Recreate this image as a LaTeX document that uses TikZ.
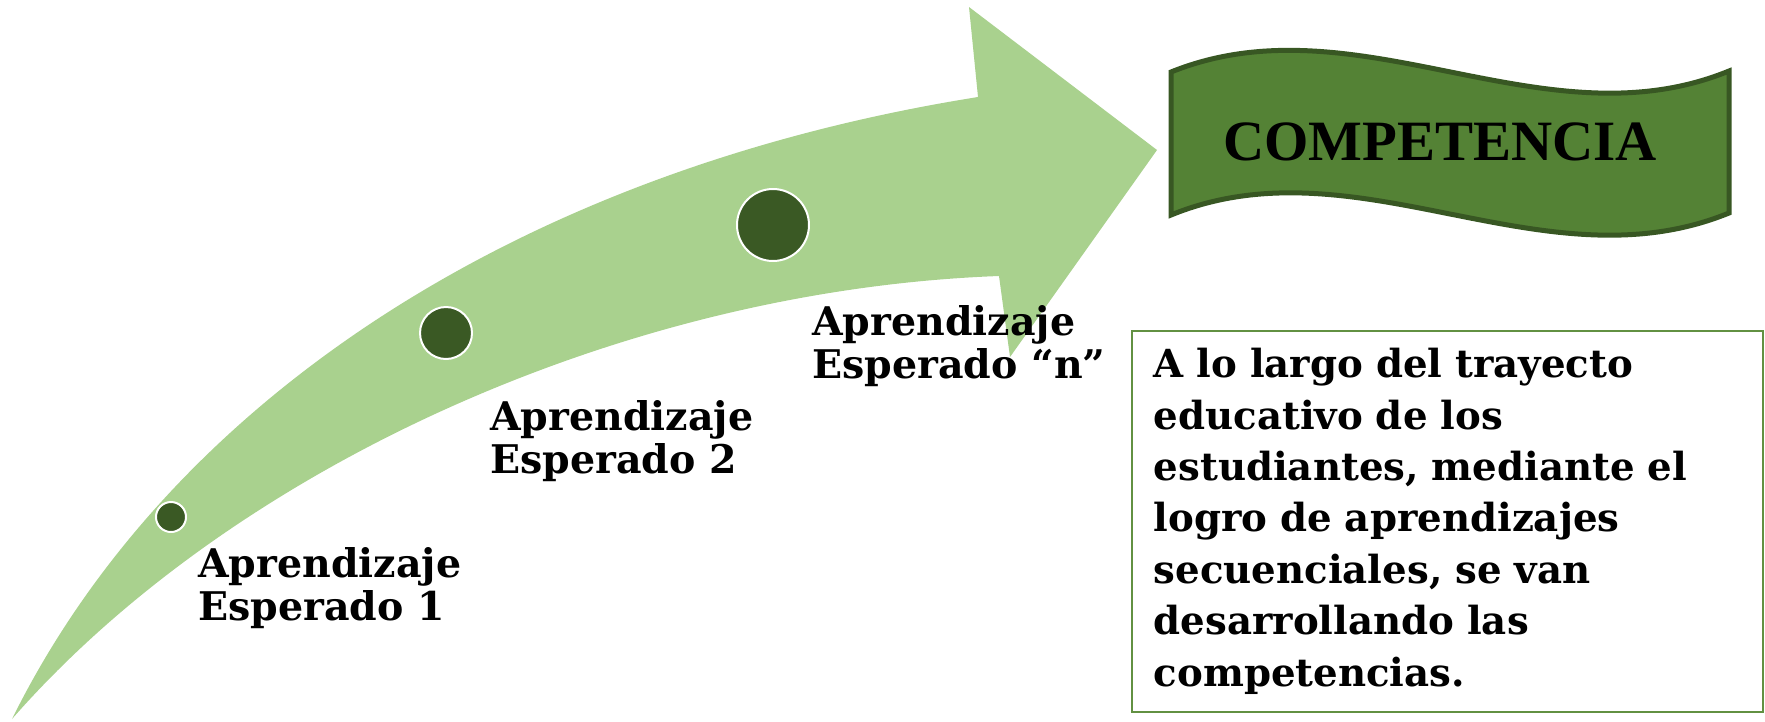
\documentclass[tikz,border=0pt]{standalone}
\usepackage{fontspec}
\setmainfont{DejaVu Serif}
\newfontfamily\bannerfont{Liberation Serif}
\usetikzlibrary{positioning}
\definecolor{arrowgreen}{RGB}{169,209,142}
\definecolor{dotgreen}{RGB}{58,89,36}
\definecolor{bannergreen}{RGB}{84,130,53}
\definecolor{bannerline}{RGB}{56,87,35}
\definecolor{boxgreen}{RGB}{98,145,66}
\tikzstyle{dot}=[
  circle,
  fill=dotgreen,
  draw=white,
  line width=2pt,
  inner sep=0pt,
]
\tikzstyle{stage}=[
  anchor=north west,
  inner sep=0pt,
  align=left,
  font={\bfseries\fontsize{39.5}{43}\selectfont},
]
\tikzset{
  x=1pt,
  y=-1pt,
}

\begin{document}
\begin{tikzpicture}
      \useasboundingbox (0,0) rectangle (1765,721);
      % big curved arrow
      \fill [arrowgreen] (12,719) .. controls (170,400) and (520,170) .. (978,97)
        -- (969,7) -- (1157,150) -- (1010,357) -- (999,276)
        .. controls (620,290) and (230,470) .. (12,719) -- cycle;
      \node [dot, minimum size=30pt] (dot1) at (171,517) {};
      \node [dot, minimum size=52pt] (dot2) at (446,333) {};
      \node [dot, minimum size=72pt] (dotn) at (773,225) {};
      \node [stage] (stage1) at (198,547) {Aprendizaje\\Esperado 1};
      \node [stage] (stage2) at (490,400) {Aprendizaje\\Esperado 2};
      \node [stage] (stagen) at (812,305) {Aprendizaje\\Esperado “n”};
      % banner
      \filldraw [fill=bannergreen, draw=bannerline, line width=5pt]
        (1171,72) .. controls (1357,-3) and (1543,147) .. (1729,71)
        -- (1729,213) .. controls (1543,289) and (1357,139) .. (1171,215) -- cycle;
      \node [font={\bannerfont\bfseries\fontsize{57}{60}\selectfont}] (goal) at (1440,142) {COMPETENCIA};
      \node [draw=boxgreen, line width=1.5pt, anchor=north west, minimum height=381pt,
        text width=587pt, inner xsep=22pt, align=left,
        font={\bfseries\fontsize{38.7}{51.4}\selectfont}] (summary) at (1131,330)
        {A lo largo del trayecto\\educativo de los\\estudiantes, mediante el\\logro de aprendizajes\\secuenciales, se van\\desarrollando las\\competencias.};
    \end{tikzpicture}
\end{document}
